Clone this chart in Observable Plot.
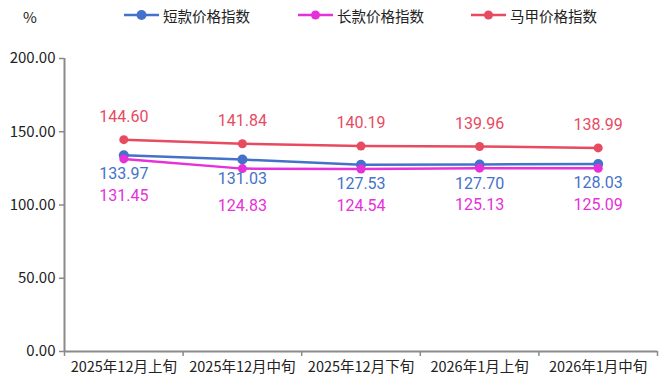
<!DOCTYPE html>
<html>
<head>
<meta charset="utf-8">
<script src="https://cdn.jsdelivr.net/npm/d3@7"></script>
<script src="https://cdn.jsdelivr.net/npm/@observablehq/plot@0.6"></script>
<style>
  body { margin: 0; background: #fff; }
  #wrap { position: relative; width: 669px; height: 385px; font-family: "Noto Sans CJK SC", "Noto Sans", sans-serif; }
  #unit { position: absolute; left: 23px; top: 6px; font-size: 15px; color: #222; }
  #legend { position: absolute; top: 5px; left: 0; height: 20px; }
  .item { position: absolute; top: 0; display: flex; align-items: center; font-size: 14.5px; color: #222; white-space: nowrap; height: 20px; }
  .item svg { margin-right: 4px; }
  #chart { position: absolute; left: 0; top: 0; }
</style>
</head>
<body>
<div id="wrap">
  <div id="chart"></div>
  <div id="unit">%</div>
  <div id="legend"></div>
</div>
<script>
const categories = ["2025年12月上旬", "2025年12月中旬", "2025年12月下旬", "2026年1月上旬", "2026年1月中旬"];
const seriesNames = ["短款价格指数", "长款价格指数", "马甲价格指数"];
const shortIdx = [133.97, 131.03, 127.53, 127.70, 128.03];
const longIdx = [131.45, 124.83, 124.54, 125.13, 125.09];
const vestIdx = [144.60, 141.84, 140.19, 139.96, 138.99];
const yTicks = [0, 50, 100, 150, 200];

const colors = ["#4472ca", "#e630d9", "#e84a5f"];
const series = [shortIdx, longIdx, vestIdx];
const radii = [5, 4.5, 4.5];
const labelDy = [19, 37, -23];
const legendX = [124, 298, 471];

const rows = series.map((vals, s) => vals.map((v, i) => ({ i: i + 0.5, v, s })));

const axisColor = "#8a8a8a";
const marks = [
  Plot.axisY({ ticks: yTicks, tickFormat: d => d.toFixed(2), tickSize: 5, tickPadding: 4, stroke: axisColor, strokeWidth: 1.5, fill: "#222", fontSize: 15, label: null }),
  Plot.axisX({ ticks: d3.range(categories.length + 1), tickFormat: () => "", tickSize: 5, stroke: axisColor, strokeWidth: 1.5, label: null }),
  Plot.axisX({ ticks: categories.map((c, i) => i + 0.5), tickFormat: d => categories[Math.floor(d)], tickSize: 0, tickPadding: 10, fill: "#222", fontSize: 14.5, label: null }),
  Plot.ruleX([0], { stroke: axisColor, strokeWidth: 2 }),
  Plot.ruleY([0], { stroke: axisColor, strokeWidth: 2 })
];
rows.forEach((data, s) => {
  marks.push(Plot.line(data, { x: "i", y: "v", stroke: colors[s], strokeWidth: 2.5 }));
  marks.push(Plot.dot(data, { x: "i", y: "v", fill: colors[s], r: radii[s] }));
});
rows.forEach((data, s) => {
  marks.push(Plot.text(data, { x: "i", y: "v", text: d => d.v.toFixed(2), fill: colors[s], dy: labelDy[s], fontSize: 16, fontFamily: "Roboto, sans-serif", lineAnchor: "middle" }));
});

const chart = Plot.plot({
  width: 669, height: 385,
  marginTop: 58, marginBottom: 34, marginLeft: 64, marginRight: 12,
  x: { type: "linear", domain: [0, categories.length], axis: null },
  y: { domain: [0, 200], axis: null },
  style: { fontFamily: '"Noto Sans CJK SC", "Noto Sans", sans-serif', background: "transparent" },
  marks
});
document.getElementById("chart").appendChild(chart);

const legend = document.getElementById("legend");
seriesNames.forEach((name, s) => {
  const item = document.createElement("div");
  item.className = "item";
  item.style.left = legendX[s] + "px";
  item.innerHTML = `<svg width="35" height="12"><line x1="0" x2="35" y1="6" y2="6" stroke="${colors[s]}" stroke-width="2.5"/><circle cx="17.5" cy="6" r="${radii[s]}" fill="${colors[s]}"/></svg><span>${name}</span>`;
  legend.appendChild(item);
});
</script>
</body>
</html>
